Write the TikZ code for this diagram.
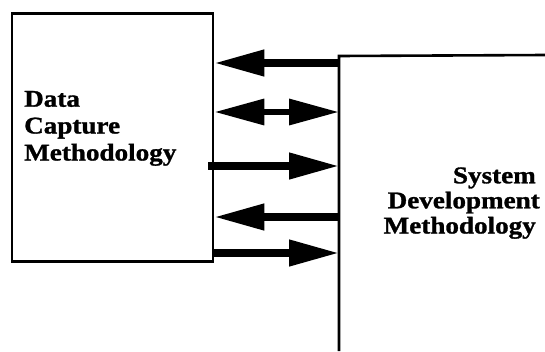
\documentclass[tikz,border=0pt]{standalone}
\usepackage{fontspec}
\newfontfamily\lbl{Liberation Serif}[FakeStretch=1.13, FakeBold=1.2]
\usetikzlibrary{arrows.meta}
\tikzset{
  boxline/.style={line width=2.6pt, line join=miter},
  bigarrow/.style={line width=7.5pt, -{Triangle[length=50pt,width=25pt]}},
  bigrev/.style={line width=7.5pt, {Triangle[length=50pt,width=25pt]}-},
  bigboth/.style={line width=6.5pt, {Triangle[length=50pt,width=25pt]}-{Triangle[length=50pt,width=25pt]}},
  txt/.style={font=\lbl\bfseries\fontsize{24}{27}\selectfont, inner sep=0pt}
}
\begin{document}
\begin{tikzpicture}[x=1pt,y=-1pt]
\useasboundingbox (0,0) rectangle (545,351);
% left box
\node[draw, boxline, minimum width=201pt, minimum height=248pt, inner sep=0pt, anchor=north west] (dcm) at (10.7,12) {};
\node[txt, anchor=base west] (t1) at (24,106.7) {Data};
\node[txt, anchor=base west] (t2) at (24,133.5) {Capture};
\node[txt, anchor=base west] (t3) at (24,160.5) {Methodology};
% right box (open)
\coordinate (sdmtl) at (339,56);
\coordinate (sdmtr) at (545,55);
\coordinate (sdmbl) at (339,351);
\draw[boxline] (sdmtr) -- (sdmtl) -- (sdmbl);
\node[txt, anchor=base east] (s1) at (536,183.3) {System};
\node[txt, anchor=base east] (s2) at (540,208.3) {Development};
\node[txt, anchor=base east] (s3) at (536,233.5) {Methodology};
% arrows
\coordinate (y1) at (0,63);
\coordinate (y2) at (0,112);
\coordinate (y3) at (0,166);
\coordinate (y4) at (0,217);
\coordinate (y5) at (0,253);
\draw[bigrev] (dcm.east |- y1) -- (sdmtl |- y1);
\draw[bigboth] (dcm.east |- y2) -- (sdmtl |- y2);
\draw[bigarrow] ([xshift=-6pt]dcm.east |- y3) -- (sdmtl |- y3);
\draw[bigrev] (dcm.east |- y4) -- (sdmtl |- y4);
\draw[bigarrow] (dcm.east |- y5) -- (sdmtl |- y5);
\end{tikzpicture}
\end{document}
